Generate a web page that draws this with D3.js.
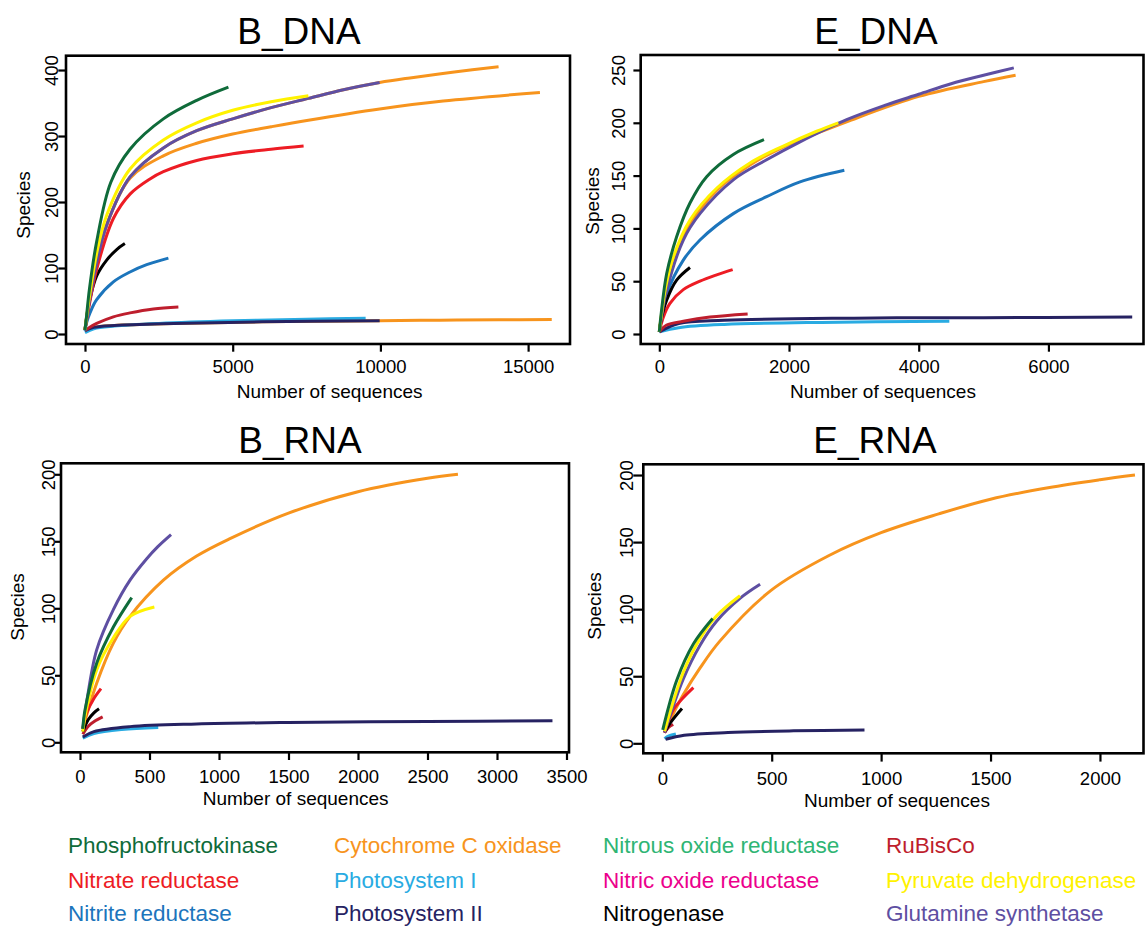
<!DOCTYPE html>
<html>
<head>
<meta charset="utf-8">
<script src="https://cdnjs.cloudflare.com/ajax/libs/d3/7.8.5/d3.min.js"></script>
<style>
  body { margin: 0; background: #fff; }
  svg { display: block; font-family: "Liberation Sans", Arial, Helvetica, sans-serif; }
  .curve { fill: none; stroke-width: 3px; stroke-linecap: butt; stroke-linejoin: round; }
  .frame { fill: none; stroke: #000; stroke-width: 2.6px; }
  .tick line { stroke: #000; stroke-width: 2.2px; }
</style>
</head>
<body>
<div id="chart"></div>
<script>
// legend order (row by row, 4 columns)
const genes = [
  "Phosphofructokinase", "Cytochrome C oxidase", "Nitrous oxide reductase", "RuBisCo",
  "Nitrate reductase", "Photosystem I", "Nitric oxide reductase", "Pyruvate dehydrogenase",
  "Nitrite reductase", "Photosystem II", "Nitrogenase", "Glutamine synthetase"
];
const geneColors = {
  "Phosphofructokinase": "#0f6b3a",
  "Cytochrome C oxidase": "#f7941d",
  "Nitrous oxide reductase": "#2fb574",
  "RuBisCo": "#be1e2d",
  "Nitrate reductase": "#ed1c24",
  "Photosystem I": "#29abe2",
  "Nitric oxide reductase": "#ec008c",
  "Pyruvate dehydrogenase": "#fff200",
  "Nitrite reductase": "#1c75bc",
  "Photosystem II": "#262262",
  "Nitrogenase": "#000000",
  "Glutamine synthetase": "#5e4fa2"
};

// rarefaction curves, [sequences, species] (drawing order)
const bDnaCurves = [
  ["Cytochrome C oxidase", [[0,6],[50,22],[150,50],[395,108],[734,165],[1524,238],[2653,282],[3782,308],[5000,326],[6300,343],[7562,357],[8750,370],[9975,381],[11000,388],[12500,397],[14000,405]]],
  ["Cytochrome C oxidase", [[0,6],[50,22],[150,50],[395,108],[734,165],[1524,236],[2653,270],[3782,289],[5000,303],[6300,314],[7562,324],[9975,341],[12125,353],[15400,366]]],
  ["Cytochrome C oxidase", [[0,5],[300,10],[1000,13],[3000,16],[6000,18.5],[9975,20],[12000,21],[14000,21.5],[15800,22]]],
  ["Photosystem I", [[0,2],[300,8],[1000,12],[2500,16],[5000,20],[7500,22.5],[9500,24]]],
  ["Photosystem II", [[0,5],[300,10],[1000,13],[3000,16],[6000,18.5],[9975,20]]],
  ["RuBisCo", [[0,5],[150,10],[395,16],[960,26],[1524,32],[2315,38],[3161,41]]],
  ["Nitrite reductase", [[0,5],[60,18],[169,32],[395,52],[960,79],[1524,94],[2089,105],[2823,115]]],
  ["Nitrogenase", [[0,6],[50,24],[150,50],[395,88],[734,112],[1073,128],[1350,137]]],
  ["Nitrate reductase", [[0,6],[50,20],[150,45],[395,98],[960,175],[1524,212],[2200,235],[2653,246],[3782,263],[5000,273],[6300,280],[7400,285]]],
  ["Glutamine synthetase", [[0,6],[50,22],[150,50],[395,108],[734,165],[1524,238],[2653,282],[3782,308],[5000,326],[6300,343],[7562,357],[8750,370],[9975,381]]],
  ["Pyruvate dehydrogenase", [[0,6],[50,24],[150,56],[395,122],[734,180],[1524,250],[2653,294],[3782,320],[5000,339],[6300,352],[7562,361]]],
  ["Phosphofructokinase", [[0,6],[50,26],[150,68],[395,140],[875,230],[1524,280],[2653,326],[3782,354],[4855,374]]]
];
const eDnaCurves = [
  ["Cytochrome C oxidase", [[0,2],[30,16],[100,42],[250,75],[473,104],[884,136],[1398,160],[1912,177],[2427,190],[2889,201],[4000,225],[5000,239],[5494,245]]],
  ["Photosystem I", [[0,2],[300,6],[1000,9],[2500,11],[4472,12]]],
  ["Photosystem II", [[0,2],[300,10],[1000,13],[3000,15],[5000,15.5],[7292,16]]],
  ["RuBisCo", [[0,2],[113,8.5],[370,12],[781,16],[1362,19]]],
  ["Nitrite reductase", [[0,2],[30,14],[113,38],[370,70],[627,89],[1141,114],[1655,130],[2170,144],[2853,155]]],
  ["Nitrate reductase", [[0,2],[62,16],[164,29],[370,42],[627,50],[884,56],[1131,61]]],
  ["Nitrogenase", [[0,2],[30,14],[113,32],[267,51],[473,63]]],
  ["Glutamine synthetase", [[0,2],[30,14],[100,38],[370,89],[627,114],[1141,146],[1655,165],[2170,182],[2889,203],[3500,217],[4000,227],[4500,237],[5000,245],[5466,252]]],
  ["Pyruvate dehydrogenase", [[0,2],[30,17],[100,45],[216,73],[473,108],[884,138],[1398,162],[1912,178],[2427,192],[2761,200]]],
  ["Phosphofructokinase", [[0,2],[30,20],[113,57],[267,92],[473,124],[730,149],[1141,170],[1614,184]]]
];
const bRnaCurves = [
  ["Cytochrome C oxidase", [[20,10],[120,44],[240,74],[360,94],[600,121],[839,139],[1079,152],[1500,171],[2000,187],[2500,197],[2719,200]]],
  ["Photosystem I", [[20,3],[100,6.5],[300,9.5],[563,11]]],
  ["Photosystem II", [[20,4],[100,8],[360,11.7],[839,13.7],[1500,14.8],[2500,15.5],[3399,16]]],
  ["RuBisCo", [[20,6],[60,12],[110,16],[163,19]]],
  ["Nitrogenase", [[20,8],[60,17],[100,22],[137,25]]],
  ["Nitrate reductase", [[20,10],[48,22],[96,32],[151,40]]],
  ["Glutamine synthetase", [[20,10],[48,30],[120,69],[240,99],[360,121],[480,137],[560,146],[655,155]]],
  ["Pyruvate dehydrogenase", [[20,8],[36,19],[120,54],[240,78],[360,94],[535,101]]],
  ["Phosphofructokinase", [[20,10],[36,24],[120,59],[240,86],[372,108]]]
];
const eRnaCurves = [
  ["Cytochrome C oxidase", [[10,8],[50,22],[95,36],[172,56],[262,76],[497,114],[762,140],[1000,157],[1263,171],[1500,182],[1763,190.5],[2000,196.5],[2160,200]]],
  ["Photosystem I", [[10,3.5],[30,5.5],[62,7]]],
  ["Photosystem II", [[15,3],[100,6],[300,8],[600,9.3],[924,10]]],
  ["RuBisCo", [[10,8],[30,12],[50,14]]],
  ["Nitrogenase", [[10,8],[40,16],[90,26]]],
  ["Nitrate reductase", [[10,8],[50,25],[90,33],[142,41.5]]],
  ["Glutamine synthetase", [[10,8],[96,48],[172,73],[248,91],[355,108],[447,118.5]]],
  ["Pyruvate dehydrogenase", [[10,9],[96,53],[172,78],[248,95],[355,110]]],
  ["Phosphofructokinase", [[2,10],[66,47],[142,74],[230,93]]]
];

const bDnaXTicks = [0, 5000, 10000, 15000];
const bDnaYTicks = [0, 100, 200, 300, 400];
const eDnaXTicks = [0, 2000, 4000, 6000];
const eDnaYTicks = [0, 50, 100, 150, 200, 250];
const bRnaXTicks = [0, 500, 1000, 1500, 2000, 2500, 3000, 3500];
const bRnaYTicks = [0, 50, 100, 150, 200];
const eRnaXTicks = [0, 500, 1000, 1500, 2000];
const eRnaYTicks = [0, 50, 100, 150, 200];

// panel layout (pixel boxes and axis extents)
const panels = [
  { title: "B_DNA", curves: bDnaCurves, xTicks: bDnaXTicks, yTicks: bDnaYTicks,
    box: [66, 55.7, 570, 344], xDom: [-643, 16418], yDom: [-15.15, 421.7],
    xTick: 7.7, yTick: 7.7, xLab: 28.7, yLab: 7.7,
    titleX: 299, titleY: 44, xTitleX: 236.7, xTitleY: 398.3, yTitleX: 30, yTitleY: 205 },
  { title: "E_DNA", curves: eDnaCurves, xTicks: eDnaXTicks, yTicks: eDnaYTicks,
    box: [640.7, 55, 1143.5, 344], xDom: [-287, 7466], yDom: [-9.47, 264.2],
    xTick: 7.7, yTick: 7.3, xLab: 28.7, yLab: 15.7,
    titleX: 876, titleY: 44, xTitleX: 790, xTitleY: 398.3, yTitleX: 599, yTitleY: 201 },
  { title: "B_RNA", curves: bRnaCurves, xTicks: bRnaXTicks, yTicks: bRnaYTicks,
    box: [61, 463.3, 569, 752.3], xDom: [-136.7, 3518], yDom: [-7.46, 208.2],
    xTick: 7.7, yTick: 6, xLab: 30.5, yLab: 6,
    titleX: 300, titleY: 453, xTitleX: 202.7, xTitleY: 805, yTitleX: 24, yTitleY: 607 },
  { title: "E_RNA", curves: eRnaCurves, xTicks: eRnaXTicks, yTicks: eRnaYTicks,
    box: [643.3, 464.3, 1143.5, 753.3], xDom: [-86.8, 2199], yDom: [-7.45, 208],
    xTick: 8.3, yTick: 10, xLab: 31.7, yLab: 10,
    titleX: 875, titleY: 453, xTitleX: 804, xTitleY: 806.7, yTitleX: 601, yTitleY: 606 }
];

const width = 1145, height = 927;
const svg = d3.select("#chart").append("svg")
  .attr("width", width).attr("height", height)
  .attr("viewBox", [0, 0, width, height]);

panels.forEach(function(p) {
  const [x0, y0, x1, y1] = p.box;
  const x = d3.scaleLinear().domain(p.xDom).range([x0, x1]);
  const y = d3.scaleLinear().domain(p.yDom).range([y1, y0]);
  const g = svg.append("g");

  const line = d3.line()
    .x(d => x(d[0]))
    .y(d => y(d[1]))
    .curve(d3.curveCatmullRom.alpha(0.5));

  g.selectAll("path.curve")
    .data(p.curves)
    .join("path")
    .attr("class", "curve")
    .attr("stroke", d => geneColors[d[0]])
    .attr("d", d => line(d[1]));

  // x axis
  const xa = g.append("g")
    .attr("transform", `translate(0,${y1})`)
    .call(d3.axisBottom(x).tickValues(p.xTicks).tickSize(p.xTick).tickFormat(d3.format("d")))
    .attr("font-size", null).attr("font-family", null);
  xa.select(".domain").remove();
  xa.selectAll("text")
    .attr("y", p.xLab).attr("dy", 0)
    .attr("fill", "#000")
    .style("font-size", "18.5px");

  // y axis, labels turned like R's default
  const ya = g.append("g")
    .attr("transform", `translate(${x0},0)`)
    .call(d3.axisLeft(y).tickValues(p.yTicks).tickSize(p.yTick).tickFormat(d3.format("d")))
    .attr("font-size", null).attr("font-family", null);
  ya.select(".domain").remove();
  ya.selectAll("text")
    .attr("x", 0).attr("y", -p.yLab).attr("dy", 0)
    .attr("transform", "rotate(-90)")
    .attr("text-anchor", "middle")
    .attr("fill", "#000")
    .style("font-size", "18.5px");

  g.append("rect")
    .attr("class", "frame")
    .attr("x", x0).attr("y", y0)
    .attr("width", x1 - x0).attr("height", y1 - y0);

  g.append("text")
    .attr("x", p.titleX).attr("y", p.titleY)
    .attr("text-anchor", "middle")
    .style("font-size", "37px")
    .text(p.title);

  g.append("text")
    .attr("x", p.xTitleX).attr("y", p.xTitleY)
    .style("font-size", "19px")
    .text("Number of sequences");

  g.append("text")
    .attr("transform", `translate(${p.yTitleX},${p.yTitleY}) rotate(-90)`)
    .attr("text-anchor", "middle")
    .style("font-size", "19px")
    .text("Species");
});

// legend
const legendCols = [68, 334, 603, 886];
const legendRows = [853, 888, 921];
svg.append("g")
  .selectAll("text")
  .data(genes)
  .join("text")
  .attr("x", (d, i) => legendCols[i % 4])
  .attr("y", (d, i) => legendRows[Math.floor(i / 4)])
  .attr("fill", d => geneColors[d])
  .style("font-size", "22.5px")
  .text(d => d);
</script>
</body>
</html>
